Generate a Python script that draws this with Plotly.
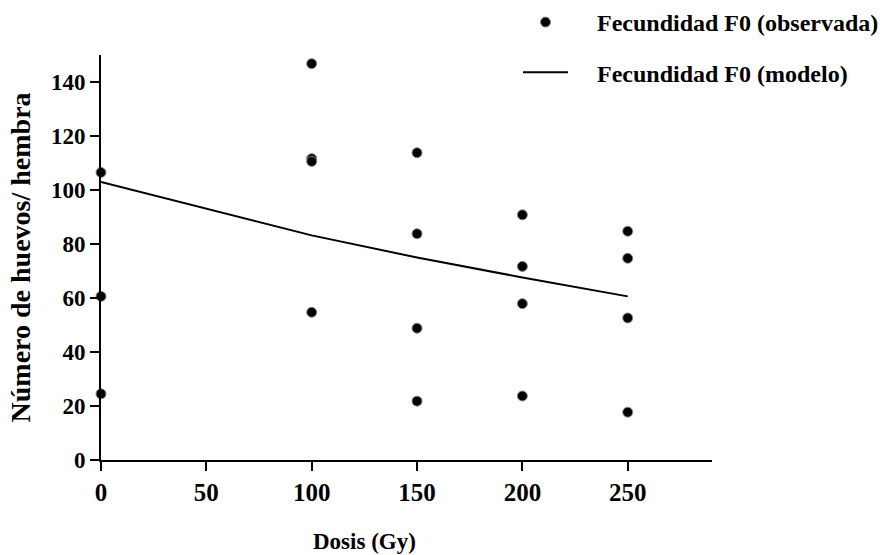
import plotly.graph_objects as go

# Observed fecundity (eggs per female) at each irradiation dose
dose_obs = [0, 0, 0,
            100, 100, 100, 100,
            150, 150, 150, 150,
            200, 200, 200, 200,
            250, 250, 250, 250]
eggs_obs = [106.5, 60.6, 24.5,
            146.8, 111.6, 110.6, 54.7,
            113.8, 83.8, 48.8, 21.8,
            90.8, 71.7, 57.9, 23.7,
            84.7, 74.7, 52.6, 17.7]

# Fitted model curve
dose_model = [0, 100, 150, 200, 250]
eggs_model = [103.0, 83.2, 75.0, 67.6, 60.6]

x_ticks = [0, 50, 100, 150, 200, 250]
y_ticks = [0, 20, 40, 60, 80, 100, 120, 140]

FONT = "Liberation Serif"
W, H = 880, 555
PAD = "&nbsp;" * 4  # extra room between legend symbol and label

fig = go.Figure()
fig.add_trace(go.Scatter(
    x=dose_obs, y=eggs_obs, mode="markers",
    name=PAD + "<b>Fecundidad F0 (observada)</b>",
    marker=dict(color="black", size=10, line=dict(color="#888", width=1)),
    cliponaxis=False, legendgroup="a",
))
fig.add_trace(go.Scatter(
    x=dose_model, y=eggs_model, mode="lines",
    name=PAD + "<b>Fecundidad F0 (modelo)</b>",
    line=dict(color="black", width=2),
    cliponaxis=False, legendgroup="b",
))

axis_common = dict(
    showline=True, linecolor="black", linewidth=2,
    ticks="outside", ticklen=9, tickwidth=2, tickcolor="black",
    showgrid=False, zeroline=False,
)

fig.update_layout(
    width=W, height=H,
    margin=dict(l=101, r=168, t=55, b=95, autoexpand=False),
    paper_bgcolor="white", plot_bgcolor="white",
    font=dict(family=FONT, color="black"),
    xaxis=dict(range=[0, 290], tickvals=x_ticks,
               tickfont=dict(family=FONT, size=25, color="black", weight="bold"),
               **axis_common),
    yaxis=dict(range=[0, 150], tickvals=y_ticks,
               tickfont=dict(family=FONT, size=23, color="black", weight="bold"),
               **axis_common),
    legend=dict(
        x=518 / W, xanchor="left", y=1 + 3 / H, yanchor="top",
        xref="container", yref="container",
        font=dict(family=FONT, size=24, color="black"),
        itemwidth=45,
        tracegroupgap=16, traceorder="grouped",
        bgcolor="rgba(0,0,0,0)",
    ),
    annotations=[
        dict(text="<b>Dosis (Gy)</b>", x=125, xref="x",
             y=(460 - 541) / (H - 55 - 95), yref="paper",
             yanchor="middle", showarrow=False,
             font=dict(family=FONT, size=23, color="black")),
        dict(text="<b>Número de huevos/ hembra</b>", textangle=-90,
             x=-0.131, xref="paper", xanchor="center",
             y=75, yref="y", yanchor="middle", showarrow=False,
             font=dict(family=FONT, size=28, color="black")),
    ],
)

fig.write_html("out.html")
